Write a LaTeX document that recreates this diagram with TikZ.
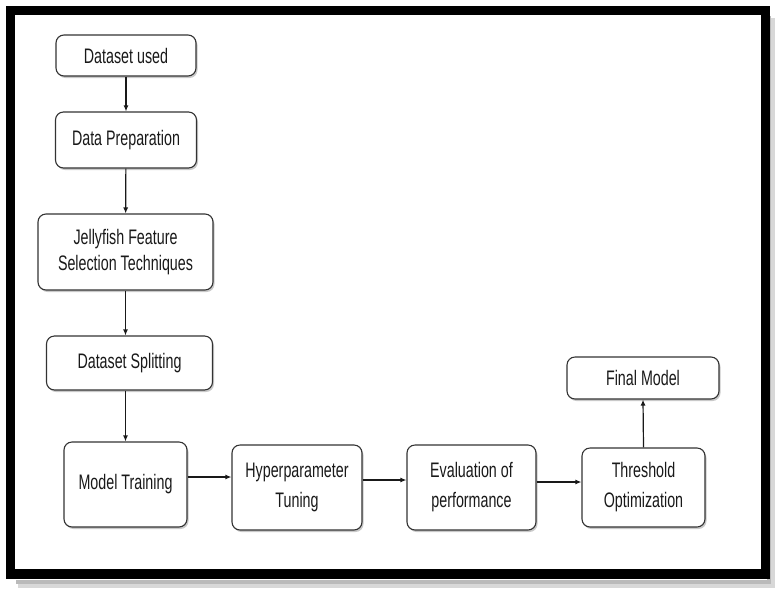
\documentclass[tikz,border=0pt]{standalone}
\usepackage{fontspec}
\setmainfont[FakeStretch=0.68]{Liberation Sans}
\usetikzlibrary{arrows.meta,shadows}
\begin{document}
\begin{tikzpicture}[x=1pt,y=-1pt,
  box/.style={draw=black!80, line width=1.1pt, rounded corners=8pt, fill=white,
    align=center, inner sep=0pt, font=\fontsize{21}{26}\selectfont, text=black!90,
    drop shadow={shadow xshift=1.5pt, shadow yshift=-2pt, opacity=0.35, fill=black!60}},
  wide/.style={font=\fontsize{21}{30}\selectfont},
  arr/.style={-{Latex[length=6pt,width=5pt]}, line width=1.2pt, draw=black!90}]
\useasboundingbox (0,0) rectangle (784,598);
\fill[white] (0,0) rectangle (784,598);
% frame shadow
\draw[black!45, line width=4pt, opacity=0.6] (16,582) -- (768.5,582) -- (768.5,16);
\draw[black!30, line width=4pt, opacity=0.5] (18,586) -- (772.5,586) -- (772.5,18);
% frame
\draw[line width=9.5pt] (10.5,10.5) rectangle (765.5,574);
% nodes
\node[box, minimum width=140pt, minimum height=41pt] (n1) at (126,55.5) {Dataset used};
\node[box, minimum width=141pt, minimum height=56pt] (n2) at (126,140) {Data Preparation};
\node[box, minimum width=175pt, minimum height=76pt] (n3) at (125.5,252) {Jellyfish Feature\\Selection Techniques};
\node[box, minimum width=166pt, minimum height=54pt] (n4) at (129.5,363) {Dataset Splitting};
\node[box, minimum width=123pt, minimum height=85pt] (n5) at (125.5,484.5) {Model Training};
\node[box, wide, minimum width=130pt, minimum height=85pt] (n6) at (297,487.5) {Hyperparameter\\Tuning};
\node[box, wide, minimum width=129pt, minimum height=85pt] (n7) at (471.5,487.5) {Evaluation of\\performance};
\node[box, wide, minimum width=123pt, minimum height=79pt] (n8) at (643.5,487.5) {Threshold\\Optimization};
\node[box, minimum width=152pt, minimum height=42pt] (n9) at (643,378) {Final Model};
% connectors
\draw[arr] (n1) -- (n2);
\draw[arr] (n2) -- (n3);
\draw[arr] (n3.south) -- (n4.north -| n3.south);
\draw[arr] (n4.south -| n5.north) -- (n5.north);
\draw[arr] ([yshift=7.5pt]n5.east) -- ([yshift=7.5pt]n5.east -| n6.west);
\draw[arr] ([yshift=7.5pt]n6.east) -- ([yshift=7.5pt]n6.east -| n7.west);
\draw[arr] ([yshift=5.5pt]n7.east) -- ([yshift=5.5pt]n7.east -| n8.west);
\draw[arr] (n8.north) -- (n9.south);
\end{tikzpicture}
\end{document}
